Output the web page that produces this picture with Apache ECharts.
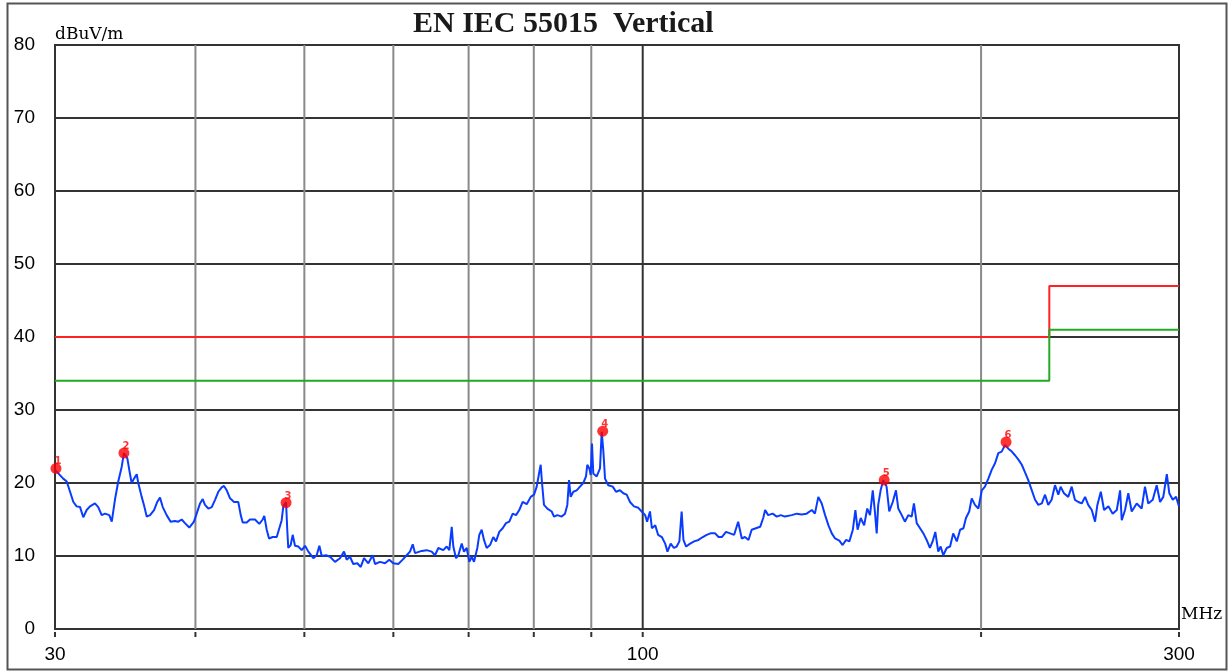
<!DOCTYPE html>
<html><head><meta charset="utf-8">
<script src="https://cdn.jsdelivr.net/npm/echarts@6/dist/echarts.min.js"></script>
<style>html,body{margin:0;padding:0;background:#fff}#c{width:1232px;height:672px}</style>
</head><body><div id="c"></div>
<script>
// ---- data ----
const titleText = 'EN IEC 55015  Vertical';
const yUnit = 'dBuV/m';
const xUnit = 'MHz';

const freqA = [30.00,30.51,30.73,30.94,31.15,31.36,31.58,31.79,32.01,32.23,
32.56,32.78,33.01,33.24,33.53,33.70,33.92,34.15,34.39,34.55,
34.79,34.93,35.10,35.27,35.47,35.58,35.83,36.02,36.20,36.45,
36.75,36.99,37.20,37.41,37.71,38.02,38.36,38.62,38.89,39.15,
39.50,39.88,40.10,40.38,40.60,40.79,41.07,41.36,41.64,41.92,
42.21,42.41,42.65,42.94,43.29,43.67,43.89,44.07,44.43,44.73,
45.19,45.59,45.91,46.06,46.29,46.51,46.86,47.25,47.50,47.73,
47.89,48.16,48.28,48.38,48.62,48.82,49.05,49.38,49.73,50.07,
50.41,50.93,51.28,51.56,51.81,52.27,52.70,53.24,53.79,54.23,
54.53,54.90,55.27,55.73,56.12,56.50,57.00,57.51,57.79,58.38,
58.98,59.50,59.99,60.61,61.16,61.66,62.08,62.43,62.72];
const levelA = [21.8,20.6,20.2,18.8,17.4,16.8,16.7,15.3,16.3,16.8,
17.2,16.7,15.6,15.8,15.6,14.7,17.7,20.2,22.2,24.1,
23.4,21.8,20.0,20.6,21.2,20.0,18.1,16.8,15.4,15.6,
16.3,17.4,18.0,16.7,15.6,14.7,14.8,14.7,15.0,14.5,
13.9,14.7,15.8,17.2,17.8,17.0,16.5,16.7,17.7,18.8,
19.4,19.6,19.0,17.9,17.4,17.4,15.6,14.6,14.6,15.0,
15.0,14.4,15.0,15.5,13.6,12.4,12.6,12.6,13.8,14.9,
16.8,17.4,13.6,11.1,11.5,12.9,11.4,11.3,10.8,11.4,
10.6,9.7,10.1,11.4,10.0,10.1,9.9,9.2,9.7,10.6,
9.5,9.9,8.9,9.0,8.5,9.7,9.0,10.1,8.9,9.2,
9.0,9.5,9.0,8.9,9.5,10.1,10.6,11.6,10.4];

const freqB = [63.59,64.24,64.90,65.34,65.79,66.46,66.93,67.29,67.62,67.84,
68.22,68.54,69.02,69.34,69.73,70.10,70.45,70.78,71.26,71.55,
71.90,72.24,72.64,73.14,73.63,74.04,74.54,75.06,75.57,76.09,
76.62,77.14,77.66,78.20,78.85,79.50,80.04,80.48,80.91,81.14,
81.36,81.69,82.25,82.99,83.38,83.95,84.71,85.28,85.69,85.99,
86.28,86.75,87.35,87.94,88.54,89.03,89.27,89.64,89.89,90.13,
90.37,91.01,91.62,91.94,92.24,92.57,93.19,94.04,94.68,95.46,
96.10,96.77,97.43,98.23,99.10,99.79,100.5,100.9,101.5,101.9,
102.6,103.2,104.0,104.7,105.2,105.9,106.6,107.2,107.8,108.3,
108.7,109.3,110.2,111.1,112.1,113.1,114.0,114.9,116.0,116.8,
117.6,118.6,119.6,120.6,121.6,122.5,123.3,124.2,125.0,126.1,
127.2,128.0,128.5,129.3,130.5,131.6,132.7,133.8];
const levelB = [10.7,10.8,10.6,10.1,11.1,10.8,11.3,10.8,14.0,11.3,
9.7,10.1,11.7,10.6,11.1,9.2,9.9,9.2,11.1,12.9,
13.6,12.2,11.1,11.5,12.6,12.0,13.3,13.8,14.5,14.7,
15.8,15.6,16.3,17.4,17.1,18.1,18.4,19.5,21.5,22.5,
20.0,17.0,16.5,16.1,15.4,15.6,15.4,15.8,17.0,20.4,
18.1,18.8,19.0,19.5,20.0,20.9,22.5,22.0,21.1,25.4,
21.3,20.9,22.0,27.0,24.5,20.6,19.7,19.5,18.8,19.0,
18.6,18.4,17.4,16.8,16.6,16.1,15.6,14.7,16.1,13.8,
14.2,12.9,12.6,11.7,10.6,11.7,11.1,11.3,12.0,16.1,
12.2,11.3,11.7,12.0,12.2,12.6,12.9,13.1,13.1,12.6,
12.6,13.3,13.1,12.9,14.7,12.4,12.6,12.2,13.6,13.8,
14.0,15.2,16.3,15.6,15.8,15.4,15.6,15.4];

const freqC = [135.7,137.1,138.5,139.9,141.4,142.3,143.3,144.3,145.3,146.3,
147.3,148.3,149.6,150.6,151.7,152.7,153.8,154.6,155.3,156.3,
157.4,158.4,159.3,160.2,160.9,161.5,162.0,162.8,163.7,164.8,
165.7,166.9,168.0,168.8,170.0,171.1,172.3,173.5,174.3,175.3,
176.5,177.7,178.9,180.1,181.1,182.1,183.2,184.1,185.1,186.4,
187.7,188.9,190.3,191.6,192.9,193.9,195.2,196.2,197.5,198.9,
200.3,201.6,203.0,204.4,205.8,207.2,208.6,210.1,211.5,213.0,
214.4,215.9,217.4,218.8,220.3,221.9,223.4,224.9,226.5,228.0,
229.5,231.1,232.7,234.3,235.4,237.0,239.1,240.8,242.4,244.1,
245.8,247.5,249.1,250.9,252.6,253.8,255.6,257.3,259.6,261.9,
264.1,265.9,266.8,268.6,270.4,272.3,275.1,277.9,279.8,281.7,
284.3,286.6,288.6,290.5,292.6,294.1,296.2,298.2,300.0];
const levelC = [15.6,15.8,15.7,15.8,16.3,15.8,18.1,17.2,15.6,14.2,
13.1,12.4,12.1,11.5,12.2,12.0,13.6,16.3,13.6,15.2,
14.2,16.5,15.6,19.0,16.1,13.1,17.0,19.0,20.4,19.5,
16.1,17.4,19.0,16.5,15.6,14.7,15.6,15.4,17.2,14.5,
13.8,13.1,12.2,11.1,12.0,13.3,10.6,11.3,10.1,11.1,
11.3,13.1,12.0,13.6,13.8,15.2,16.1,17.9,17.0,16.5,
19.0,19.5,20.6,21.8,22.7,24.1,24.3,25.2,24.7,24.3,
23.8,23.2,22.5,21.5,20.4,19.0,17.7,17.0,17.2,18.4,
17.0,17.7,19.7,18.4,19.5,18.6,18.1,19.5,17.7,17.4,
17.2,18.1,17.0,16.3,14.7,17.0,18.8,16.3,16.8,15.8,
16.3,19.0,14.9,16.3,18.6,16.1,17.2,16.5,19.5,17.2,
17.7,19.7,17.4,18.1,21.2,18.6,17.7,18.1,16.8];

const limitFreq = [30, 230, 230, 300];
const redLimit = [40, 40, 47, 47];
const greenLimit = [34, 34, 41, 41];

const markerFreq = [30.06, 34.55, 48.16, 92.13, 164.0, 210.5];
const markerLevel = [22.0, 24.1, 17.3, 27.1, 20.4, 25.6];
const markerLabel = ['1', '2', '3', '4', '5', '6'];

const vGridFreq = [40, 50, 60, 70, 80, 90, 100, 200];
const xTickFreq = [30, 40, 50, 60, 70, 80, 90, 100, 200, 300];

// ---- build ----
const freqs = freqA.concat(freqB, freqC);
const levels = levelA.concat(levelB, levelC);
const trace = freqs.map((f, i) => [f, levels[i]]);
const pair = (xs, ys) => xs.map((x, i) => [x, ys[i]]);

const chart = echarts.init(document.getElementById('c'), null, {renderer: 'canvas'});
const labelFont = '"Liberation Sans", Arial, sans-serif';

const option = {
  animation: false,
  backgroundColor: '#ffffff',
  grid: {left: 55, right: 53, top: 45, bottom: 43, show: true, borderColor: '#333', borderWidth: 2, backgroundColor: 'transparent'},
  xAxis: {
    type: 'log', logBase: 10, min: 30, max: 300,
    axisLine: {show: false}, axisTick: {show: false}, splitLine: {show: false},
    axisLabel: {show: true, showMinLabel: true, showMaxLabel: true, fontFamily: labelFont, fontSize: 19, color: '#000', margin: 16}
  },
  yAxis: {
    type: 'value', min: 0, max: 80, interval: 10,
    axisLine: {show: false}, axisTick: {show: false},
    splitLine: {show: true, lineStyle: {color: '#333', width: 2}},
    axisLabel: {fontFamily: labelFont, fontSize: 19, color: '#000', margin: 20}
  },
  graphic: [
    {type: 'rect', shape: {x: 7.5, y: 3.5, width: 1219, height: 666}, style: {fill: null, stroke: '#555', lineWidth: 2}, silent: true, z: -10},
    {type: 'text', left: 413, top: 9, style: {text: titleText, font: 'bold 30px "Liberation Serif", serif', fill: '#1a1a1a'}},
    {type: 'text', left: 55, top: 26, style: {text: yUnit, font: '17px "DejaVu Serif", serif', fill: '#000'}},
    {type: 'text', left: 1181, top: 606, style: {text: xUnit, font: '17px "DejaVu Serif", serif', fill: '#000'}}
  ],
  series: [
    {
      type: 'custom', silent: true, z: 1, clip: false,
      data: vGridFreq.map(v => [v, 0]),
      encode: {x: 0, y: 1},
      renderItem: (params, api) => {
        const x = api.value(0);
        const p0 = api.coord([x, 0]);
        const p1 = api.coord([x, 80]);
        return {type: 'line', shape: {x1: p0[0], y1: p0[1], x2: p1[0], y2: p1[1]},
          style: {stroke: x === 100 ? '#333' : '#8a8a8a', lineWidth: 2}};
      }
    },
    {
      type: 'custom', silent: true, z: 1, clip: false,
      data: xTickFreq.map(v => [v, 0]),
      encode: {x: 0, y: 1},
      renderItem: (params, api) => {
        const p0 = api.coord([api.value(0), 0]);
        return {type: 'line', shape: {x1: p0[0], y1: p0[1] + 3, x2: p0[0], y2: p0[1] + 8},
          style: {stroke: '#333', lineWidth: 2}};
      }
    },
    {type: 'line', data: pair(limitFreq, redLimit), symbol: 'none', lineStyle: {color: '#ff2222', width: 2}, z: 3, silent: true},
    {type: 'line', data: pair(limitFreq, greenLimit), symbol: 'none', lineStyle: {color: '#22aa22', width: 2}, z: 3, silent: true},
    {type: 'line', data: trace, symbol: 'none', lineStyle: {color: '#0a3cff', width: 2}, z: 4, silent: true},
    {
      type: 'scatter', data: pair(markerFreq, markerLevel), symbol: 'circle', symbolSize: 11,
      itemStyle: {color: '#ff0000'}, z: 5, silent: true,
      label: {show: true, formatter: p => markerLabel[p.dataIndex], position: [4, -6], color: '#ff0000', fontSize: 10, fontWeight: 'bold', fontFamily: 'DejaVu Sans'}
    }
  ]
};
chart.setOption(option);
</script>
</body></html>
